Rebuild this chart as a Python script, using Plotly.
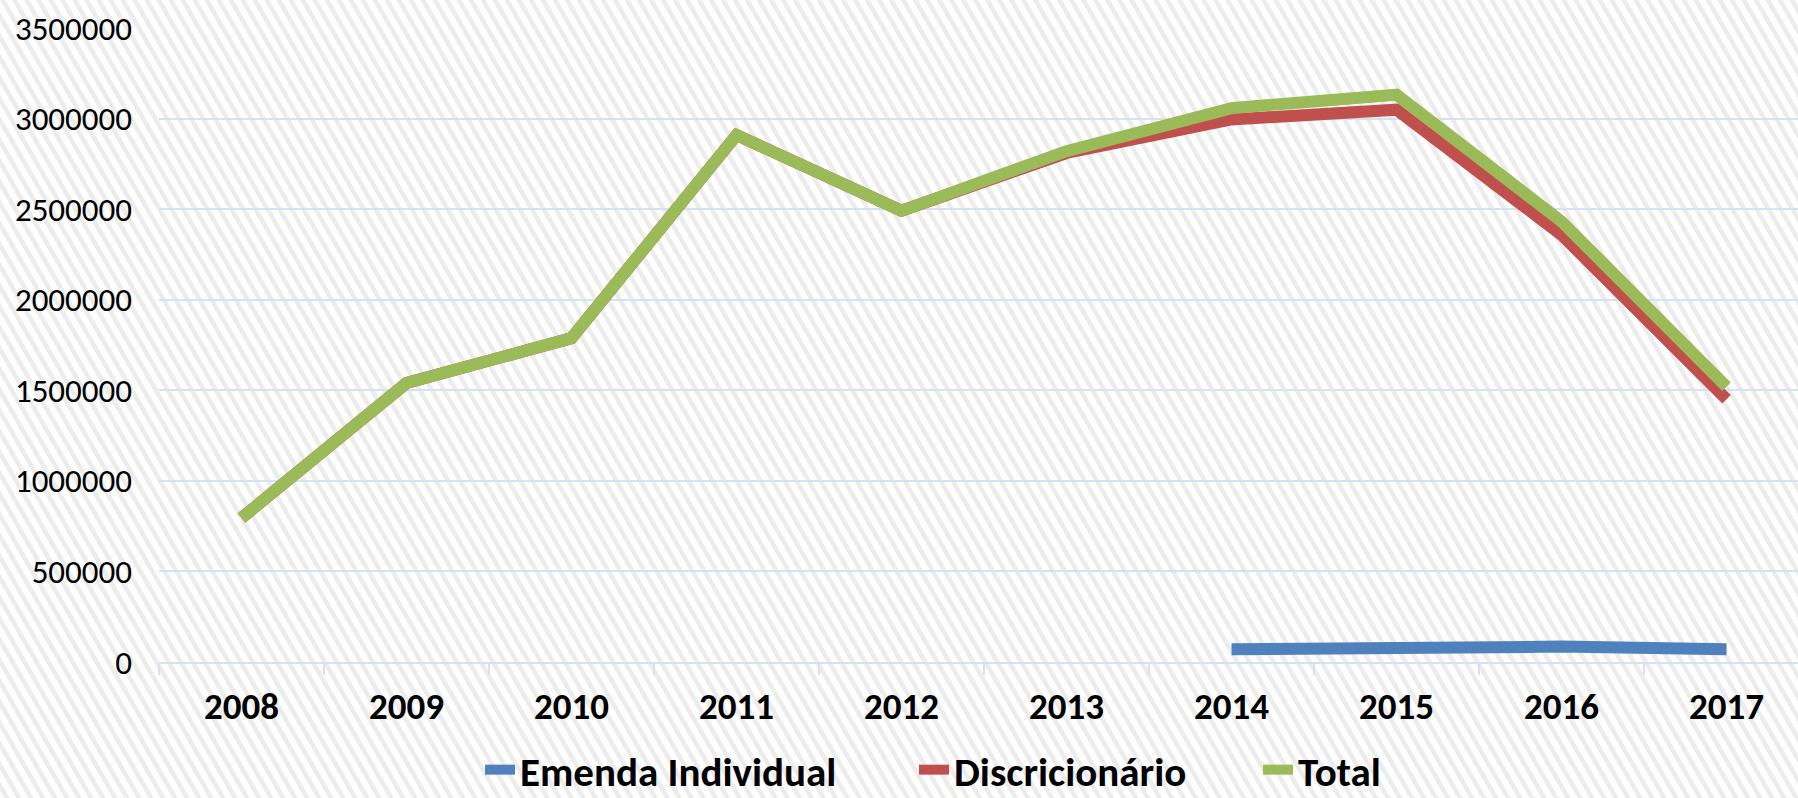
import plotly.graph_objects as go
import urllib.parse

years = ["2008", "2009", "2010", "2011", "2012", "2013", "2014", "2015", "2016", "2017"]
emenda_individual = [None, None, None, None, None, None, 70000, 83000, 85000, 70000]
discricionario = [795000, 1540000, 1788000, 2909000, 2491000, 2810000, 2995000, 3049000, 2358000, 1450000]
total = [795000, 1540000, 1788000, 2909000, 2491000, 2820000, 3058000, 3132000, 2432000, 1520000]

W, H = 1798, 798
L, R, T, B = 159, 0, 28, 136
pw, ph = W - L - R, H - T - B

svg = (
    f'<svg xmlns="http://www.w3.org/2000/svg" width="{W}" height="{H}">'
    '<defs><pattern id="p" width="10.4" height="10.4" patternUnits="userSpaceOnUse" '
    'patternTransform="rotate(-30)"><rect width="10.4" height="10.4" fill="#ffffff"/>'
    '<rect width="4.5" height="10.4" fill="#ececec"/></pattern></defs>'
    f'<rect width="{W}" height="{H}" fill="url(#p)"/></svg>'
)
bg_uri = "data:image/svg+xml;charset=utf-8," + urllib.parse.quote(svg)

FONT = "Carlito, Calibri, Lato, sans-serif"
grid = "#d6e2f2"

fig = go.Figure()
fig.add_trace(go.Scatter(x=years, y=emenda_individual, name="Emenda Individual", mode="lines",
                         line=dict(color="#4f81bd", width=12), connectgaps=False, legend="legend"))
fig.add_trace(go.Scatter(x=years, y=discricionario, name="Discricionário", mode="lines",
                         line=dict(color="#c0504d", width=12), legend="legend2"))
fig.add_trace(go.Scatter(x=years, y=total, name="Total", mode="lines",
                         line=dict(color="#9bbb59", width=12), legend="legend3"))

leg_font = dict(family=FONT, size=41, color="black", weight="bold")
def leg(xpx):
    return dict(orientation="h", xref="paper", yref="container",
                x=(xpx - L) / pw, xanchor="left", y=(H - 770) / H, yanchor="middle",
                bgcolor="rgba(0,0,0,0)", font=leg_font)

fig.update_layout(
    width=W, height=H,
    margin=dict(l=L, r=R, t=T, b=B, pad=0),
    paper_bgcolor="white",
    plot_bgcolor="rgba(0,0,0,0)",
    images=[dict(source=bg_uri, xref="paper", yref="paper",
                 x=-L / pw, y=1 + T / ph, sizex=W / pw, sizey=H / ph,
                 xanchor="left", yanchor="top", sizing="stretch", layer="below")],
    xaxis=dict(type="category", range=[-0.5, 9.433], showgrid=False, automargin=False,
               showline=True, linecolor=grid, linewidth=2,
               ticks="outside", ticklen=11, tickwidth=2, tickcolor=grid,
               tickson="boundaries", ticklabelstandoff=11,
               tickfont=dict(family=FONT, size=37, color="black", weight="bold")),
    yaxis=dict(range=[0, 3500000], automargin=False,
               tickvals=[0, 500000, 1000000, 1500000, 2000000, 2500000, 3000000, 3500000],
               ticktext=["0", "500000", "1000000", "1500000", "2000000", "2500000", "3000000", "3500000"],
               showgrid=True, gridcolor=grid, gridwidth=2, zeroline=False,
               ticklabelstandoff=26,
               tickfont=dict(family=FONT, size=33, color="black")),
    legend=leg(480),
    legend2=leg(914),
    legend3=leg(1258),
    showlegend=True,
)

fig.write_html("out.html", config={"displayModeBar": False},
               post_script="document.body.style.margin='0';document.body.style.overflow='hidden';")
